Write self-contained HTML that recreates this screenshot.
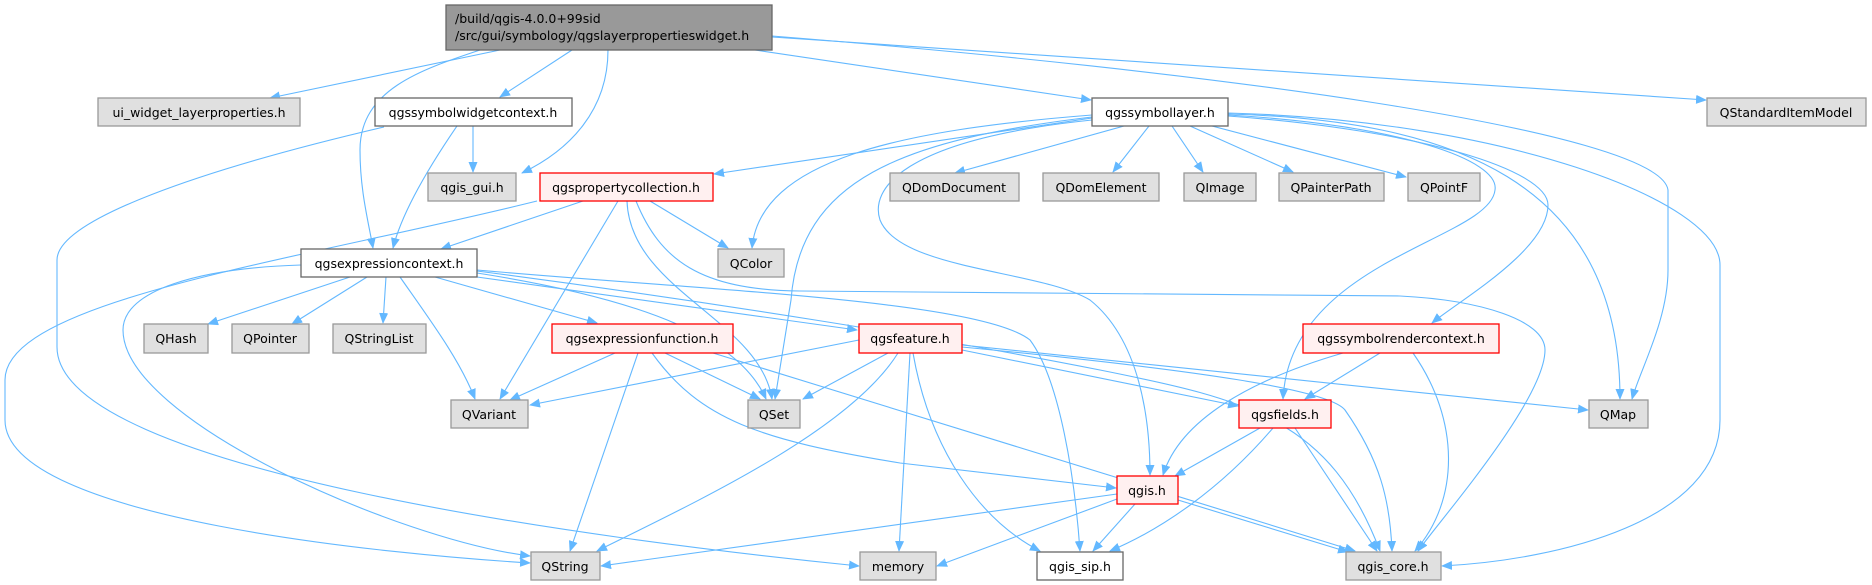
<!DOCTYPE html>
<html><head><meta charset="utf-8"><style>
html,body{margin:0;padding:0;background:#fff;}
svg{display:block;}
text{font-family:"DejaVu Sans","Liberation Sans",sans-serif;font-size:12.5px;fill:#000;}
.g{fill:#e0e0e0;stroke:#999;stroke-width:1.3}
.w{fill:#fff;stroke:#666;stroke-width:1.3}
.r{fill:#fff0f0;stroke:#f00;stroke-width:1.3}
.m{fill:#999;stroke:#666;stroke-width:1.3}
path.e{fill:none;stroke:#63b8ff;stroke-width:1.1;marker-end:url(#a)}
</style></head><body>
<svg width="1872" height="585" viewBox="0 0 1872 585" xmlns="http://www.w3.org/2000/svg">
<defs><marker id="a" markerWidth="11" markerHeight="9" refX="10" refY="4.5" orient="auto" markerUnits="userSpaceOnUse"><path d="M0,0 L11,4.5 L0,9 z" fill="#63b8ff"/></marker></defs>
<g>
<path class="e" d="M500,50 L270,98"/>
<path class="e" d="M572,50 L500,97"/>
<path class="e" d="M608,50 C608,110 570,150 522,173"/>
<path class="e" d="M480,50 C420,70 360,90 360,150 C360,190 368,220 373,248"/>
<path class="e" d="M755,50 L1091,100"/>
<path class="e" d="M772,36 C1200,70 1660,130 1668,190 L1668,270 C1668,320 1640,370 1632,399"/>
<path class="e" d="M772,37 L1706,100"/>
<path class="e" d="M473,126 L473,172"/>
<path class="e" d="M457,126 C420,180 400,220 393,248"/>
<path class="e" d="M384,127 C200,170 57,220 57,260 L57,347 C57,470 600,540 859,566"/>
<path class="e" d="M583,201 L441,249"/>
<path class="e" d="M537,201 C300,260 5,300 5,380 L5,420 C5,520 400,555 530,563"/>
<path class="e" d="M618,201 L500,399"/>
<path class="e" d="M650,201 L728,248"/>
<path class="e" d="M627,201 C630,290 760,320 772,399"/>
<path class="e" d="M636,201 C660,260 700,290 800,291 L1400,296 C1480,300 1545,320 1545,350 C1545,400 1440,520 1418,551"/>
<path class="e" d="M1124,126 L955,173"/>
<path class="e" d="M1149,126 L1113,172"/>
<path class="e" d="M1172,126 L1203,172"/>
<path class="e" d="M1190,126 L1293,172"/>
<path class="e" d="M1212,126 L1406,177"/>
<path class="e" d="M1092,118 L714,174"/>
<path class="e" d="M1092,115 C900,130 760,160 752,248"/>
<path class="e" d="M1092,117 C900,140 800,180 791,300 L775,399"/>
<path class="e" d="M1092,120 C900,140 870,190 880,220 C900,270 1040,270 1090,300 C1140,340 1150,420 1150,475"/>
<path class="e" d="M1228,115 C1400,125 1500,160 1495,190 C1490,240 1290,260 1283,399"/>
<path class="e" d="M1228,116 C1420,130 1548,170 1548,205 C1548,250 1460,300 1432,323"/>
<path class="e" d="M1228,114 C1450,120 1620,180 1620,399"/>
<path class="e" d="M1228,113 C1500,120 1720,200 1720,265 L1720,420 C1720,520 1560,560 1442,566"/>
<path class="e" d="M350,277 L208,324"/>
<path class="e" d="M367,277 L292,324"/>
<path class="e" d="M386,277 L383,323"/>
<path class="e" d="M400,277 C430,320 460,360 475,399"/>
<path class="e" d="M435,277 L597,323"/>
<path class="e" d="M477,277 L857,330"/>
<path class="e" d="M477,273 C650,300 740,340 766,399"/>
<path class="e" d="M301,265 C200,268 123,290 123,330 C123,420 400,540 530,556"/>
<path class="e" d="M477,270 C700,290 980,300 1030,340 C1060,380 1075,480 1080,551"/>
<path class="e" d="M477,271 C700,300 950,340 1100,370 C1250,400 1330,420 1380,551"/>
<path class="e" d="M615,353 L510,400"/>
<path class="e" d="M665,353 L760,399"/>
<path class="e" d="M638,353 L570,551"/>
<path class="e" d="M652,353 C700,420 760,440 900,463 L1116,488"/>
<path class="e" d="M713,353 L1355,551"/>
<path class="e" d="M859,340 L530,405"/>
<path class="e" d="M888,353 L803,399"/>
<path class="e" d="M898,353 C850,430 700,500 597,551"/>
<path class="e" d="M910,353 L899,551"/>
<path class="e" d="M913,353 C930,450 980,520 1040,551"/>
<path class="e" d="M962,350 L1238,406"/>
<path class="e" d="M962,347 C1200,370 1330,390 1345,410 C1380,460 1390,500 1392,551"/>
<path class="e" d="M962,345 L1588,410"/>
<path class="e" d="M1343,353 C1250,380 1180,420 1163,475"/>
<path class="e" d="M1380,353 L1305,399"/>
<path class="e" d="M1413,353 C1460,420 1460,500 1415,551"/>
<path class="e" d="M1260,428 L1175,476"/>
<path class="e" d="M1273,428 C1220,490 1160,530 1110,551"/>
<path class="e" d="M1295,428 L1377,551"/>
<path class="e" d="M1117,494 L601,566"/>
<path class="e" d="M1117,499 L937,566"/>
<path class="e" d="M1135,504 L1093,551"/>
<path class="e" d="M1178,500 L1348,552"/>
</g>
<rect class="m" x="446" y="5" width="326" height="45"/>
<text x="455" y="23">/build/qgis-4.0.0+99sid</text>
<text x="455" y="40">/src/gui/symbology/qgslayerpropertieswidget.h</text>

<rect class="g" x="98" y="98" width="202" height="28"/><text x="199" y="117" text-anchor="middle">ui_widget_layerproperties.h</text>
<rect class="w" x="375" y="98" width="197" height="28"/><text x="473" y="117" text-anchor="middle">qgssymbolwidgetcontext.h</text>
<rect class="w" x="1092" y="98" width="136" height="28"/><text x="1160" y="117" text-anchor="middle">qgssymbollayer.h</text>
<rect class="g" x="1707" y="98" width="159" height="28"/><text x="1786" y="117" text-anchor="middle">QStandardItemModel</text>

<rect class="g" x="428" y="173" width="88" height="28"/><text x="472" y="192" text-anchor="middle">qgis_gui.h</text>
<rect class="r" x="540" y="173" width="173" height="28"/><text x="626" y="192" text-anchor="middle">qgspropertycollection.h</text>
<rect class="g" x="890" y="173" width="129" height="28"/><text x="954" y="192" text-anchor="middle">QDomDocument</text>
<rect class="g" x="1043" y="173" width="116" height="28"/><text x="1101" y="192" text-anchor="middle">QDomElement</text>
<rect class="g" x="1184" y="173" width="72" height="28"/><text x="1220" y="192" text-anchor="middle">QImage</text>
<rect class="g" x="1279" y="173" width="105" height="28"/><text x="1331" y="192" text-anchor="middle">QPainterPath</text>
<rect class="g" x="1408" y="173" width="72" height="28"/><text x="1444" y="192" text-anchor="middle">QPointF</text>

<rect class="w" x="301" y="249" width="176" height="28"/><text x="389" y="268" text-anchor="middle">qgsexpressioncontext.h</text>
<rect class="g" x="718" y="249" width="66" height="28"/><text x="751" y="268" text-anchor="middle">QColor</text>

<rect class="g" x="144" y="324" width="64" height="29"/><text x="176" y="343" text-anchor="middle">QHash</text>
<rect class="g" x="232" y="324" width="77" height="29"/><text x="270" y="343" text-anchor="middle">QPointer</text>
<rect class="g" x="333" y="324" width="93" height="29"/><text x="379" y="343" text-anchor="middle">QStringList</text>
<rect class="r" x="552" y="324" width="181" height="29"/><text x="642" y="343" text-anchor="middle">qgsexpressionfunction.h</text>
<rect class="r" x="859" y="324" width="103" height="29"/><text x="910" y="343" text-anchor="middle">qgsfeature.h</text>
<rect class="r" x="1303" y="324" width="196" height="29"/><text x="1401" y="343" text-anchor="middle">qgssymbolrendercontext.h</text>

<rect class="g" x="451" y="400" width="77" height="28"/><text x="489" y="419" text-anchor="middle">QVariant</text>
<rect class="g" x="748" y="400" width="52" height="28"/><text x="774" y="419" text-anchor="middle">QSet</text>
<rect class="r" x="1239" y="400" width="92" height="28"/><text x="1285" y="419" text-anchor="middle">qgsfields.h</text>
<rect class="g" x="1589" y="400" width="59" height="28"/><text x="1618" y="419" text-anchor="middle">QMap</text>

<rect class="r" x="1117" y="476" width="61" height="28"/><text x="1147" y="495" text-anchor="middle">qgis.h</text>

<rect class="g" x="531" y="552" width="69" height="28"/><text x="565" y="571" text-anchor="middle">QString</text>
<rect class="g" x="860" y="552" width="76" height="28"/><text x="898" y="571" text-anchor="middle">memory</text>
<rect class="w" x="1037" y="552" width="86" height="28"/><text x="1080" y="571" text-anchor="middle">qgis_sip.h</text>
<rect class="g" x="1346" y="552" width="95" height="28"/><text x="1393" y="571" text-anchor="middle">qgis_core.h</text>
</svg>
</body></html>
